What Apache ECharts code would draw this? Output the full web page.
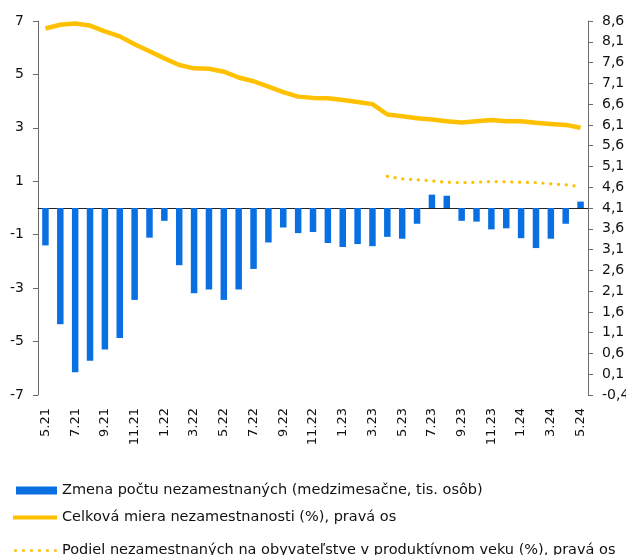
<!DOCTYPE html>
<html>
<head>
<meta charset="utf-8">
<script src="https://cdn.jsdelivr.net/npm/echarts@6/dist/echarts.min.js"></script>
<style>
  html, body { margin: 0; padding: 0; background: #fff; }
  #chart { width: 626px; height: 555px; }
</style>
</head>
<body>
<div id="chart"></div>
<script>
const months = [
  '5.21', '6.21', '7.21', '8.21', '9.21', '10.21', '11.21', '12.21',
  '1.22', '2.22', '3.22', '4.22', '5.22', '6.22', '7.22', '8.22', '9.22', '10.22', '11.22', '12.22',
  '1.23', '2.23', '3.23', '4.23', '5.23', '6.23', '7.23', '8.23', '9.23', '10.23', '11.23', '12.23',
  '1.24', '2.24', '3.24', '4.24', '5.24'
];

// monthly change in unemployed, thousands
const changeUnemployed = [
  -1.40, -4.35, -6.15, -5.72, -5.30, -4.87, -3.44, -1.11,
  -0.48, -2.14, -3.19, -3.05, -3.44, -3.05, -2.28, -1.29, -0.73, -0.94, -0.90, -1.31,
  -1.46, -1.35, -1.43, -1.08, -1.15, -0.59, 0.50, 0.46, -0.48, -0.51, -0.80, -0.76,
  -1.13, -1.50, -1.15, -0.59, 0.24
];

// total unemployment rate, %
const totalRate = [
  8.42, 8.51, 8.54, 8.49, 8.35, 8.23, 8.04, 7.87,
  7.70, 7.54, 7.46, 7.45, 7.38, 7.24, 7.15, 7.02, 6.89, 6.78, 6.75, 6.74,
  6.70, 6.65, 6.60, 6.35, 6.31, 6.26, 6.23, 6.19, 6.16, 6.19, 6.22, 6.19,
  6.19, 6.15, 6.12, 6.10, 6.03
];

// share of unemployed in working-age population, % (from 4.23)
const workingAgeShare = [
  null, null, null, null, null, null, null, null,
  null, null, null, null, null, null, null, null, null, null, null, null,
  null, null, null, 4.86, 4.80, 4.78, 4.75, 4.72, 4.71, 4.72, 4.74, 4.73,
  4.72, 4.71, 4.68, 4.66, 4.61
];

const leftTicks = { min: -7, max: 7, step: 2 };
const rightTicks = { min: -0.4, max: 8.6, step: 0.5 };

const names = [
  'Zmena počtu nezamestnaných (medzimesačne, tis. osôb)',
  'Celková miera nezamestnanosti (%), pravá os',
  'Podiel nezamestnaných na obyvateľstve v produktívnom veku (%), pravá os'
];

// right axis starts at -0,4, so shift it onto a 0-based scale for even ticks
const shift = -rightTicks.min;
const toRight = (v) => (v == null ? null : +(v + shift).toFixed(2));

const font = 'DejaVu Sans';
const textColor = '#111';
const axisGrey = '#6b6b6b';

const dots = [0, 8, 16, 24, 32, 40]
  .map((x) => 'M' + x + ',1.5a1.5,1.5 0 1,0 3,0a1.5,1.5 0 1,0 -3,0')
  .join(' ');

const chart = echarts.init(document.getElementById('chart'));

chart.setOption({
  animation: false,
  grid: {
    left: 38, right: 38, top: 21, bottom: 160,
    containLabel: false, outerBoundsMode: 'none'
  },
  legend: [
    {
      data: [{ name: names[0], icon: 'rect' }],
      left: 16, top: 483, itemWidth: 41, itemHeight: 8, padding: 0,
      textStyle: { fontFamily: font, fontSize: 14.5, color: textColor }
    },
    {
      data: [{ name: names[1], icon: 'rect' }],
      left: 13, top: 510, itemWidth: 44, itemHeight: 4, padding: 0,
      textStyle: { fontFamily: font, fontSize: 14.5, color: textColor }
    },
    {
      data: [{ name: names[2], icon: 'path://' + dots }],
      left: 14, top: 543, itemWidth: 43, itemHeight: 3, padding: 0,
      textStyle: { fontFamily: font, fontSize: 14.5, color: textColor }
    }
  ],
  xAxis: [
    {
      type: 'category',
      data: months,
      position: 'bottom',
      axisLine: { show: false, onZero: false },
      axisTick: { show: false },
      axisLabel: {
        interval: 1, rotate: 90, margin: 13,
        fontFamily: font, fontSize: 13, color: textColor
      }
    },
    {
      type: 'category',
      data: months,
      position: 'bottom',
      axisLine: { onZero: true, lineStyle: { color: '#222', width: 1 } },
      axisTick: { interval: 1, length: 5, lineStyle: { color: '#999' } },
      axisLabel: { show: false }
    }
  ],
  yAxis: [
    {
      type: 'value',
      min: leftTicks.min, max: leftTicks.max, interval: leftTicks.step,
      position: 'left',
      splitLine: { show: false },
      axisLine: { show: true, onZero: false, lineStyle: { color: axisGrey } },
      axisTick: { show: true, length: 5, lineStyle: { color: axisGrey } },
      axisLabel: { margin: 14, fontFamily: font, fontSize: 14, color: textColor }
    },
    {
      type: 'value',
      min: 0, max: rightTicks.max + shift, interval: rightTicks.step,
      position: 'right',
      splitLine: { show: false },
      axisLine: { show: true, onZero: false, lineStyle: { color: axisGrey } },
      axisTick: { show: true, length: 5, lineStyle: { color: axisGrey } },
      axisLabel: {
        margin: 14, fontFamily: font, fontSize: 14, color: textColor,
        formatter: (v) => (v - shift).toFixed(1).replace('.', ',')
      }
    }
  ],
  series: [
    {
      name: names[0],
      type: 'bar',
      xAxisIndex: 0,
      yAxisIndex: 0,
      data: changeUnemployed,
      barWidth: 6.5,
      itemStyle: { color: '#0a70e2' }
    },
    {
      name: names[1],
      type: 'line',
      xAxisIndex: 0,
      yAxisIndex: 1,
      data: totalRate.map(toRight),
      symbol: 'none',
      lineStyle: { color: '#ffc000', width: 4.5 },
      itemStyle: { color: '#ffc000' }
    },
    {
      name: names[2],
      type: 'line',
      xAxisIndex: 0,
      yAxisIndex: 1,
      data: workingAgeShare.map(toRight),
      symbol: 'none',
      lineStyle: { color: '#ffc000', width: 3.2, type: [0.1, 7.7], cap: 'round' },
      itemStyle: { color: '#ffc000' }
    }
  ]
});
</script>
</body>
</html>
